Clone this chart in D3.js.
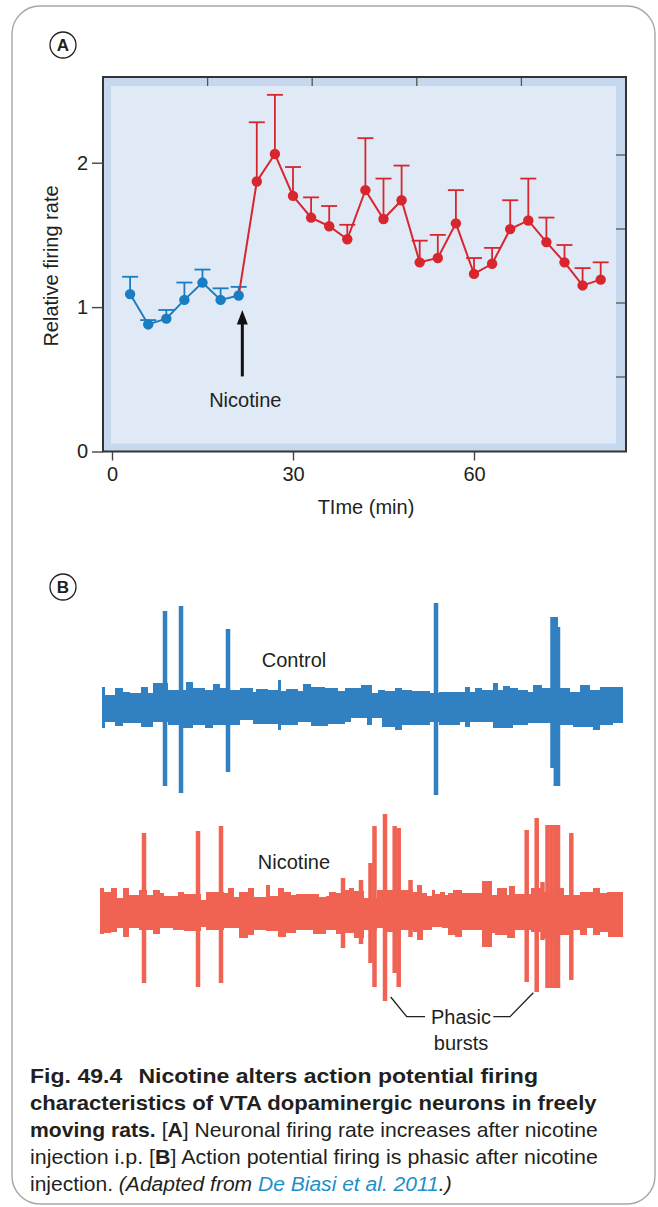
<!DOCTYPE html>
<html><head><meta charset="utf-8">
<script src="https://cdn.jsdelivr.net/npm/d3@7"></script>
<style>
html,body{margin:0;padding:0;background:#fff;}
svg{display:block;font-family:"Liberation Sans",Arial,Helvetica,sans-serif;}
</style></head><body>
<svg id="fig" width="658" height="1207"></svg>
<script>
// ---------- Panel A data ----------
const baselineTime = [3, 6, 9, 12, 15, 18, 21];
const baselineRate = [1.09, 0.88, 0.92, 1.05, 1.17, 1.05, 1.08];
const baselineErr  = [1.21, 0.91, 0.98, 1.17, 1.26, 1.13, 1.14];
const nicotineTime = [24, 27, 30, 33, 36, 39, 42, 45, 48, 51, 54, 57, 60, 63, 66, 69, 72, 75, 78, 81];
const nicotineRate = [1.87, 2.06, 1.77, 1.62, 1.56, 1.47, 1.81, 1.61, 1.74, 1.31, 1.34, 1.58, 1.23, 1.30, 1.54, 1.60, 1.45, 1.31, 1.15, 1.19];
const nicotineErr  = [2.28, 2.47, 1.97, 1.76, 1.70, 1.57, 2.17, 1.89, 1.98, 1.46, 1.50, 1.81, 1.34, 1.41, 1.74, 1.89, 1.62, 1.43, 1.27, 1.31];
const xTicks = [0, 30, 60];
const yTicks = [0, 1, 2];
const injectionTime = 21.6;

// ---------- Panel B data (time in s, amplitude in arbitrary units) ----------
const controlNoiseT = [0.02,0.05,0.15,0.23,0.30,0.41,0.48,0.53,0.68,0.83,0.86,0.93,1.05,1.13,1.20,1.30,1.40,1.53,1.56,1.68,1.78,1.81,1.86,1.98,2.03,2.11,2.25,2.28,2.38,2.45,2.51,2.61,2.67,2.72,2.78,2.82,2.85,2.95,3.02,3.12,3.30,3.39,3.60,3.65,3.70,3.75,3.82,3.93,3.98,4.03,4.10,4.13,4.18,4.28,4.33,4.42,4.60,4.70,4.73,4.80,4.90,4.93,5.00,5.13];
const controlNoiseTop = [0.19,0.11,0.18,0.14,0.13,0.19,0.13,0.23,0.16,0.16,0.24,0.18,0.16,0.22,0.18,0.16,0.18,0.14,0.17,0.16,0.26,0.15,0.17,0.15,0.22,0.19,0.18,0.18,0.15,0.18,0.18,0.21,0.21,0.13,0.16,0.16,0.15,0.18,0.16,0.15,0.13,0.14,0.14,0.19,0.14,0.18,0.16,0.23,0.16,0.20,0.18,0.18,0.16,0.14,0.21,0.18,0.18,0.14,0.14,0.21,0.16,0.16,0.19,0.19];
const controlNoiseBottom = [-0.22,-0.16,-0.20,-0.17,-0.17,-0.21,-0.21,-0.16,-0.19,-0.22,-0.22,-0.19,-0.22,-0.19,-0.19,-0.19,-0.14,-0.18,-0.18,-0.18,-0.24,-0.19,-0.19,-0.16,-0.16,-0.20,-0.20,-0.18,-0.18,-0.16,-0.12,-0.12,-0.19,-0.12,-0.12,-0.21,-0.21,-0.24,-0.19,-0.19,-0.16,-0.19,-0.16,-0.21,-0.16,-0.16,-0.16,-0.22,-0.22,-0.22,-0.22,-0.19,-0.19,-0.17,-0.17,-0.17,-0.19,-0.19,-0.21,-0.21,-0.21,-0.24,-0.19,-0.17];
const controlEnd = 5.23;
const controlSpikeT = [0.65, 0.81, 1.28, 3.36, 4.525, 4.558, 4.58];
const controlSpikeTop = [0.95, 1.00, 0.77, 1.03, 0.89, 0.89, 0.79];
const controlSpikeBottom = [-0.80, -0.87, -0.66, -0.89, -0.62, -0.80, -0.80];

const nicotineNoiseT = [0.00,0.04,0.11,0.17,0.23,0.29,0.39,0.47,0.53,0.60,0.64,0.73,0.78,0.84,1.01,1.06,1.24,1.28,1.34,1.39,1.48,1.54,1.66,1.70,1.78,1.84,1.86,1.91,1.96,2.13,2.19,2.26,2.29,2.36,2.45,2.49,2.54,2.64,2.77,2.87,3.01,3.13,3.17,3.22,3.23,3.27,3.32,3.35,3.40,3.42,3.45,3.48,3.53,3.55,3.62,3.82,3.92,3.95,3.97,4.07,4.09,4.15,4.31,4.42,4.60,4.64,4.73,4.80,4.87,4.93,5.00,5.07,5.08];
const nicotineNoiseTop = [0.24,0.20,0.24,0.14,0.24,0.17,0.22,0.17,0.22,0.19,0.16,0.16,0.20,0.18,0.12,0.20,0.19,0.24,0.15,0.20,0.24,0.15,0.27,0.16,0.24,0.20,0.20,0.17,0.18,0.18,0.15,0.16,0.20,0.19,0.22,0.24,0.21,0.14,0.22,0.22,0.22,0.20,0.27,0.19,0.19,0.16,0.22,0.18,0.20,0.20,0.17,0.19,0.22,0.22,0.19,0.31,0.17,0.17,0.24,0.17,0.26,0.18,0.24,0.20,0.24,0.17,0.17,0.20,0.20,0.24,0.19,0.20,0.20];
const nicotineNoiseBottom = [-0.22,-0.21,-0.20,-0.16,-0.25,-0.16,-0.18,-0.18,-0.22,-0.16,-0.16,-0.18,-0.18,-0.19,-0.15,-0.18,-0.16,-0.16,-0.16,-0.26,-0.23,-0.18,-0.19,-0.19,-0.25,-0.25,-0.21,-0.21,-0.18,-0.22,-0.22,-0.18,-0.18,-0.22,-0.21,-0.21,-0.26,-0.18,-0.16,-0.20,-0.18,-0.20,-0.28,-0.28,-0.18,-0.18,-0.15,-0.15,-0.15,-0.16,-0.16,-0.23,-0.23,-0.25,-0.18,-0.35,-0.21,-0.23,-0.23,-0.26,-0.26,-0.18,-0.20,-0.26,-0.23,-0.23,-0.18,-0.23,-0.16,-0.23,-0.20,-0.20,-0.25];
const nicotineEnd = 5.23;
const nicotineSpikeT = [0.44, 0.98, 1.21, 2.43, 2.61, 2.705, 2.745, 2.85, 2.947, 2.987, 3.105, 4.267, 4.367, 4.425, 4.475, 4.515, 4.555, 4.58, 4.713];
const nicotineSpikeTop = [0.79, 0.81, 0.86, 0.34, 0.32, 0.49, 0.86, 0.98, 0.86, 0.84, 0.32, 0.82, 0.94, 0.30, 0.87, 0.87, 0.87, 0.87, 0.79];
const nicotineSpikeBottom = [-0.71, -0.75, -0.71, -0.36, -0.32, -0.51, -0.75, -0.89, -0.61, -0.75, -0.25, -0.70, -0.80, -0.28, -0.76, -0.76, -0.76, -0.76, -0.68];

// ---------- Caption ----------
const captionLines = [
  [["Fig. 49.4", "b"], ["Nicotine alters action potential firing", "b", 14]],
  [["characteristics of VTA dopaminergic neurons in freely", "b"]],
  [["moving rats.", "b"], [" [", "r"], ["A", "b"], ["] Neuronal firing rate increases after nicotine", "r"]],
  [["injection i.p. [", "r"], ["B", "b"], ["] Action potential firing is phasic after nicotine", "r"]],
  [["injection. ", "r"], ["(Adapted from ", "i"], ["De Biasi et al. 2011", "il"], [".)", "i"]]
];
const captionWidths = [492, 567, 568, 568, 422];

// ---------- Colours ----------
const BLUE = "#1a7dc2", RED = "#d8262f";
const CTRL = "#3180c2", NIC = "#f06353";
const INK = "#231f20";

const svg = d3.select("#fig");

// outer rounded frame
svg.append("rect").attr("x", 12).attr("y", 6).attr("width", 643).attr("height", 1198)
  .attr("rx", 28).attr("fill", "none").attr("stroke", "#a7a7a7").attr("stroke-width", 1.4);

function panelLabel(cx, cy, t) {
  svg.append("circle").attr("cx", cx).attr("cy", cy).attr("r", 13)
    .attr("fill", "#fff").attr("stroke", INK).attr("stroke-width", 1.3);
  svg.append("text").attr("x", cx).attr("y", cy + 6).attr("text-anchor", "middle")
    .attr("font-size", 17).attr("font-weight", "bold").attr("fill", INK).text(t);
}
panelLabel(63, 45, "A");
panelLabel(63, 587, "B");

// ---------- Panel A ----------
const frame = {l: 103, r: 626, t: 77, b: 451.5};
const x = d3.scaleLinear().domain([0, 60]).range([112, 474]);
const y = d3.scaleLinear().domain([0, 2]).range([451.5, 162.7]);

svg.append("rect").attr("x", frame.l).attr("y", frame.t)
  .attr("width", frame.r - frame.l).attr("height", frame.b - frame.t).attr("fill", "#c6d8ed");
svg.append("rect").attr("x", frame.l + 8).attr("y", frame.t + 9)
  .attr("width", frame.r - frame.l - 18).attr("height", frame.b - frame.t - 17).attr("fill", "#e0eaf6");

// inner decorative ticks (top and right)
const topDiv = d3.scaleLinear().domain([0, 5]).range([frame.l, frame.r]);
[1, 2, 3, 4].forEach(i => {
  svg.append("line").attr("x1", topDiv(i)).attr("x2", topDiv(i)).attr("y1", frame.t).attr("y2", frame.t + 9)
    .attr("stroke", "#555").attr("stroke-width", 1.3);
});
const rightDiv = d3.scaleLinear().domain([0, 5]).range([81, 451]);
[1, 2, 3, 4].forEach(i => {
  svg.append("line").attr("x1", frame.r - 10).attr("x2", frame.r).attr("y1", rightDiv(i)).attr("y2", rightDiv(i))
    .attr("stroke", "#555").attr("stroke-width", 1.3);
});

svg.append("rect").attr("x", frame.l).attr("y", frame.t)
  .attr("width", frame.r - frame.l).attr("height", frame.b - frame.t)
  .attr("fill", "none").attr("stroke", "#333").attr("stroke-width", 2);

const axL = svg.append("g").attr("transform", `translate(${frame.l},0)`)
  .call(d3.axisLeft(y).tickValues(yTicks).tickSize(11).tickPadding(4).tickFormat(d3.format("d")));
const axB = svg.append("g").attr("transform", `translate(0,${frame.b})`)
  .call(d3.axisBottom(x).tickValues(xTicks).tickSize(9).tickPadding(6).tickFormat(d3.format("d")));
[axL, axB].forEach(g => {
  g.select(".domain").remove();
  g.selectAll("line").attr("stroke", "#444").attr("stroke-width", 1.4);
  g.selectAll("text").attr("font-size", 20).attr("fill", INK)
    .attr("font-family", "'Liberation Sans', Arial, sans-serif");
});

svg.append("text").attr("transform", "translate(58,266) rotate(-90)").attr("text-anchor", "middle")
  .attr("font-size", 20).attr("fill", INK).text("Relative firing rate");
svg.append("text").attr("x", 366).attr("y", 514).attr("text-anchor", "middle")
  .attr("font-size", 20).attr("fill", INK).text("TIme (min)");

const base = baselineTime.map((t, i) => ({t, v: baselineRate[i], e: baselineErr[i]}));
const nic = nicotineTime.map((t, i) => ({t, v: nicotineRate[i], e: nicotineErr[i]}));

function errBars(data, color) {
  const g = svg.append("g").attr("stroke", color).attr("stroke-width", 1.8);
  data.forEach(d => {
    g.append("line").attr("x1", x(d.t)).attr("x2", x(d.t)).attr("y1", y(d.v)).attr("y2", y(d.e));
    g.append("line").attr("x1", x(d.t) - 8).attr("x2", x(d.t) + 8).attr("y1", y(d.e)).attr("y2", y(d.e));
  });
}
errBars(base, BLUE);
errBars(nic, RED);

const line = d3.line().x(d => x(d.t)).y(d => y(d.v));
svg.append("path").datum(base).attr("d", line).attr("fill", "none").attr("stroke", BLUE).attr("stroke-width", 2);
svg.append("path").datum([base[base.length - 1]].concat(nic)).attr("d", line)
  .attr("fill", "none").attr("stroke", RED).attr("stroke-width", 2);

svg.append("g").selectAll("circle").data(base).join("circle")
  .attr("cx", d => x(d.t)).attr("cy", d => y(d.v)).attr("r", 5.2).attr("fill", BLUE);
svg.append("g").selectAll("circle").data(nic).join("circle")
  .attr("cx", d => x(d.t)).attr("cy", d => y(d.v)).attr("r", 5.2).attr("fill", RED);

// injection arrow
const ax = x(injectionTime);
svg.append("line").attr("x1", ax).attr("x2", ax).attr("y1", y(0.52)).attr("y2", y(0.90))
  .attr("stroke", "#111").attr("stroke-width", 3);
svg.append("path").attr("d", `M${ax},${y(0.98)} L${ax - 5.5},${y(0.88)} L${ax + 5.5},${y(0.88)} Z`).attr("fill", "#111");
svg.append("text").attr("x", ax + 3).attr("y", y(0.31)).attr("text-anchor", "middle")
  .attr("font-size", 20).attr("fill", INK).text("Nicotine");

// ---------- Panel B ----------
const tx = d3.scaleLinear().domain([0, 5.23]).range([100, 623]);
const cy = d3.scaleLinear().domain([-1, 1]).range([806, 606]);
const ny = d3.scaleLinear().domain([-1, 1]).range([1012, 812]);

function trace(T, top, bot, end, sT, sTop, sBot, ys, color) {
  const pts = T.map((t, i) => ({t, a: top[i], b: bot[i]}));
  pts.push({t: end, a: top[top.length - 1], b: bot[bot.length - 1]});
  const area = d3.area().x(d => tx(d.t)).y0(d => ys(d.b)).y1(d => ys(d.a)).curve(d3.curveStepAfter);
  svg.append("path").datum(pts).attr("d", area).attr("fill", color);
  svg.append("g").selectAll("rect").data(sT).join("rect")
    .attr("x", (d) => tx(d) - 2.25).attr("width", 4.5)
    .attr("y", (d, i) => ys(sTop[i])).attr("height", (d, i) => ys(sBot[i]) - ys(sTop[i]))
    .attr("fill", color);
}
trace(controlNoiseT, controlNoiseTop, controlNoiseBottom, controlEnd,
      controlSpikeT, controlSpikeTop, controlSpikeBottom, cy, CTRL);
trace(nicotineNoiseT, nicotineNoiseTop, nicotineNoiseBottom, nicotineEnd,
      nicotineSpikeT, nicotineSpikeTop, nicotineSpikeBottom, ny, NIC);

svg.append("text").attr("x", 294).attr("y", 667).attr("text-anchor", "middle")
  .attr("font-size", 20).attr("fill", INK).text("Control");
svg.append("text").attr("x", 294).attr("y", 869).attr("text-anchor", "middle")
  .attr("font-size", 20).attr("fill", INK).text("Nicotine");

// phasic bursts annotation
svg.append("text").attr("x", 461).attr("y", 1024).attr("text-anchor", "middle")
  .attr("font-size", 20).attr("fill", INK).text("Phasic");
svg.append("text").attr("x", 461).attr("y", 1050).attr("text-anchor", "middle")
  .attr("font-size", 20).attr("fill", INK).text("bursts");
svg.append("path").attr("d", `M${tx(2.907)},${ny(-0.85)} L${tx(3.067)},${ny(-1.047)} L${tx(3.25)},${ny(-1.047)}`)
  .attr("fill", "none").attr("stroke", INK).attr("stroke-width", 1.3);
svg.append("path").attr("d", `M${tx(3.933)},${ny(-1.047)} L${tx(4.10)},${ny(-1.047)} L${tx(4.333)},${ny(-0.807)}`)
  .attr("fill", "none").attr("stroke", INK).attr("stroke-width", 1.3);

// ---------- Caption ----------
const cap = svg.append("g");
captionLines.forEach((segs, li) => {
  const g = cap.append("g");
  const t = g.append("text").attr("x", 0).attr("y", 0).attr("font-size", 20).attr("fill", INK)
    .style("white-space", "pre");
  segs.forEach(([s, st, dx]) => {
    const sp = t.append("tspan").text(s);
    if (dx) sp.attr("dx", dx);
    if (st === "b") sp.attr("font-weight", "bold");
    if (st === "i" || st === "il") sp.attr("font-style", "italic");
    if (st === "il") sp.attr("fill", "#1e8fc8");
  });
  const w = t.node().getComputedTextLength();
  const s = captionWidths[li] / w;
  g.attr("transform", `translate(30,${1083 + li * 27}) scale(${s},1)`);
});
</script>
</body></html>
